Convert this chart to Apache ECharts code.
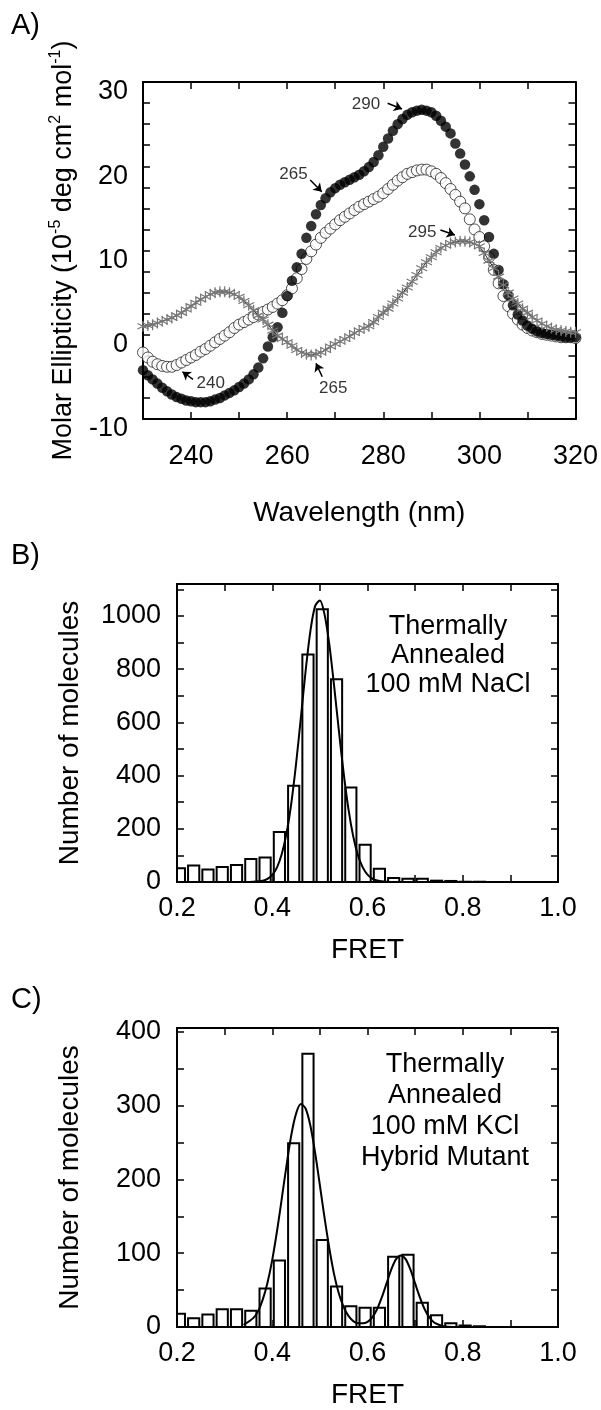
<!DOCTYPE html>
<html>
<head>
<meta charset="utf-8">
<script src="https://cdn.jsdelivr.net/npm/echarts@6/dist/echarts.min.js"></script>
<style>
html,body{margin:0;padding:0;background:#fff;}
#chart{width:601px;height:1410px;}
</style>
</head>
<body>
<div id="chart"></div>
<script>
// ---------- Panel A data (CD spectra) ----------
const wavelength = [230,231,232,233,234,235,236,237,238,239,240,241,242,243,244,245,246,247,248,249,
250,251,252,253,254,255,256,257,258,259,260,261,262,263,264,265,266,267,268,269,
270,271,272,273,274,275,276,277,278,279,280,281,282,283,284,285,286,287,288,289,
290,291,292,293,294,295,296,297,298,299,300,301,302,303,304,305,306,307,308,309,
310,311,312,313,314,315,316,317,318,319,320];
const filledCD = [-4.2,-4.8,-5.3,-5.8,-6.3,-6.7,-7.1,-7.4,-7.6,-7.8,-7.9,-8.0,-8.0,-8.0,-7.9,-7.7,-7.5,-7.2,-6.9,-6.6,
-6.2,-5.8,-5.3,-4.7,-3.9,-2.8,-1.4,-0.3,0.9,2.6,4.6,6.4,8.0,9.6,11.5,12.9,14.3,15.4,16.2,16.9,
17.4,17.8,18.1,18.4,18.7,19.0,19.4,19.9,20.5,21.3,22.3,23.3,24.2,25.0,25.6,26.1,26.4,26.6,26.7,26.6,
26.4,26.0,25.4,24.7,23.9,22.7,21.5,20.2,18.8,17.2,15.5,13.6,11.6,9.6,7.7,6.0,4.7,3.5,2.4,1.7,
1.1,0.7,0.4,0.2,0.1,0.0,-0.1,-0.2,-0.3,-0.3,-0.3];
const openCD = [-2.1,-2.7,-3.2,-3.5,-3.7,-3.8,-3.8,-3.6,-3.3,-3.0,-2.7,-2.4,-2.0,-1.7,-1.3,-0.9,-0.5,-0.1,0.3,0.8,
1.2,1.5,1.8,2.1,2.4,2.7,3.0,3.3,3.7,4.1,4.7,5.5,6.7,7.8,9.0,9.9,10.7,11.5,12.1,12.6,
13.1,13.6,14.0,14.4,14.8,15.2,15.5,15.8,16.1,16.4,16.8,17.3,17.8,18.3,18.7,19.1,19.3,19.5,19.6,19.6,
19.4,19.1,18.6,18.0,17.3,16.6,15.8,15.0,13.7,12.5,11.6,10.5,9.2,7.7,6.1,4.6,3.4,2.5,1.8,1.2,
0.8,0.5,0.3,0.1,0.0,-0.1,-0.2,-0.3,-0.3,-0.3,-0.4];
const starCD = [1.0,1.1,1.2,1.4,1.6,1.8,2.0,2.3,2.6,3.0,3.4,3.8,4.2,4.5,4.8,5.0,5.1,5.1,5.0,4.8,
4.5,4.0,3.5,2.9,2.3,1.8,1.2,0.5,-0.1,-0.5,-0.9,-1.3,-1.8,-2.1,-2.3,-2.4,-2.3,-2.1,-1.8,-1.4,
-1.1,-0.8,-0.5,-0.2,0.2,0.5,0.8,1.0,1.5,2.1,2.6,3.1,3.7,4.3,5.0,5.6,6.3,7.1,7.9,8.6,
9.2,9.8,10.3,10.6,10.9,11.0,11.1,11.1,11.0,10.8,10.5,9.7,8.8,7.9,6.9,5.9,5.0,4.3,3.7,3.1,
2.6,2.1,1.7,1.3,1.0,0.8,0.6,0.5,0.4,0.3,0.3];
const annTexts = ['290','265','295','240','265'];
const annTextPos = [[276.4,27.4],[261.3,19.1],[288.1,12.2],[244.1,-5.8],[269.6,-6.4]];
const annArrows = [
  [[280.9,27.47],[283.9,26.8]],
  [[264.8,18.37],[267.2,16.98]],
  [[291.9,12.43],[294.9,11.84]],
  [[240.4,-5.29],[238.2,-4.39]],
  [[267.3,-4.98],[266.0,-3.39]]
];

// ---------- Panels B and C data (FRET histograms) ----------
const fretBins = [0.205,0.235,0.265,0.295,0.325,0.355,0.385,0.415,0.445,0.475,0.505,0.535,0.565,0.595,0.625,0.655,0.685,0.715,0.745,0.775,0.805,0.835];
const countsB = [52,62,47,56,64,86,92,188,362,855,1025,762,355,140,50,15,12,12,5,4,1,1];
const countsC = [18,12,17,24,24,22,52,90,249,370,118,55,28,26,26,95,98,33,16,5,2,1];
const fitXB = [0.34,0.36,0.38,0.39,0.40,0.41,0.42,0.43,0.44,0.45,0.46,0.47,0.48,0.49,0.50,0.51,0.52,0.53,0.54,0.55,0.56,0.57,0.58,0.59,0.60,0.61,0.62,0.64,0.66];
const fitYB = [0,1,5,12,27,55,105,183,296,444,616,792,942,1037,1058,1004,890,735,567,408,274,172,100,55,28,13,6,1,0];
const fitXC = [0.34,0.36,0.37,0.38,0.39,0.40,0.41,0.42,0.43,0.44,0.45,0.46,0.47,0.48,0.49,0.50,0.51,0.52,0.53,0.54,0.55,0.56,0.57,0.58,0.59,0.60,0.61,0.62,0.63,0.64,0.65,0.66,0.67,0.68,0.69,0.70,0.71,0.72,0.73,0.74,0.75,0.76,0.78];
const fitYC = [3,12,21,37,60,91,130,174,219,260,289,302,296,273,236,192,147,106,71,45,27,15,8,5,5,7,13,24,40,59,78,92,97,92,78,59,40,24,13,6,3,1,0];

// ---------- styling ----------
const BLACK = '#000';
const FF = "'Liberation Sans', Arial, sans-serif";
const BIN_W = 0.0235;

function zip(a, b) { return a.map((v, i) => [v, b[i]]); }

function axis(grid, min, max, interval, position, showLabel, fmt, margin, extra) {
  const o = {
    type: 'value', gridIndex: grid, min: min, max: max, interval: interval, position: position,
    axisLine: {show: true, onZero: false, lineStyle: {color: BLACK, width: 2}},
    axisTick: {show: true, inside: true, length: 7, lineStyle: {color: BLACK, width: 1.5}},
    splitLine: {show: false},
    minorTick: {show: false},
    axisLabel: {show: showLabel, formatter: fmt, color: BLACK, fontSize: 27, fontFamily: FF, margin: margin}
  };
  return Object.assign(o, extra || {});
}

const fmtA_x = v => (v % 20 === 0 ? String(v) : '');
const fmtA_y = v => (Math.round(v) === v && v % 10 === 0 ? String(v) : '');
const fmtB_y = v => (v % 200 === 0 ? String(v) : '');
const fmtC_y = v => (v % 100 === 0 ? String(v) : '');
const fmtFret = v => { const r = Math.round(v * 10); return (Math.abs(v * 10 - r) < 1e-6 && r % 2 === 0) ? (r / 10).toFixed(1) : ''; };

const nameStyle = {color: BLACK, fontSize: 28, fontFamily: FF};

const xAxes = [
  axis(0, 230, 320, 10, 'bottom', true, fmtA_x, 24, {name: 'Wavelength (nm)', nameLocation: 'middle', nameGap: 80, nameTextStyle: nameStyle}),
  axis(0, 230, 320, 10, 'top', false, fmtA_x, 8),
  axis(1, 0.2, 1.0, 0.1, 'bottom', true, fmtFret, 13, {name: 'FRET', nameLocation: 'middle', nameGap: 54, nameTextStyle: nameStyle}),
  axis(1, 0.2, 1.0, 0.1, 'top', false, fmtFret, 8),
  axis(2, 0.2, 1.0, 0.1, 'bottom', true, fmtFret, 13, {name: 'FRET', nameLocation: 'middle', nameGap: 54, nameTextStyle: nameStyle}),
  axis(2, 0.2, 1.0, 0.1, 'top', false, fmtFret, 8)
];
const yAxes = [
  axis(0, -10, 30, 2.5, 'left', true, fmtA_y, 15, {
    name: 'Molar Ellipticity (10{s|-5} deg cm{s|2} mol{s|-1})', nameLocation: 'middle', nameGap: 63,
    nameTextStyle: {color: BLACK, fontSize: 27, fontFamily: FF, lineHeight: 30,
      rich: {s: {fontSize: 16, fontFamily: FF, color: BLACK, lineHeight: 18, verticalAlign: 'top'}}}
  }),
  axis(0, -10, 30, 2.5, 'right', false, fmtA_y, 8),
  axis(1, 0, 1120, 100, 'left', true, fmtB_y, 16, {name: 'Number of molecules', nameLocation: 'middle', nameGap: 93, nameTextStyle: nameStyle}),
  axis(1, 0, 1120, 100, 'right', false, fmtB_y, 8),
  axis(2, 0, 405, 50, 'left', true, fmtC_y, 16, {name: 'Number of molecules', nameLocation: 'middle', nameGap: 93, nameTextStyle: nameStyle}),
  axis(2, 0, 405, 50, 'right', false, fmtC_y, 8)
];
// A's y labels sit slightly below their ticks in the original
yAxes[0].axisLabel.verticalAlign = 'top';
yAxes[0].axisLabel.lineHeight = 20;

function barRender(params, api) {
  const x = api.value(0), y = api.value(1);
  const p0 = api.coord([x - BIN_W / 2, y]);
  const p1 = api.coord([x + BIN_W / 2, 0]);
  const cs = params.coordSys;
  const shape = echarts.graphic.clipRectByRect(
    {x: p0[0], y: p0[1], width: p1[0] - p0[0], height: p1[1] - p0[1]},
    {x: cs.x, y: cs.y, width: cs.width, height: cs.height}
  );
  return shape && {type: 'rect', shape: shape, style: {fill: '#fff', stroke: BLACK, lineWidth: 2}};
}

const starSymbol = 'path://M0,-10L0,10M-8.66,-5L8.66,5M-8.66,5L8.66,-5';

const option = {
  animation: false,
  backgroundColor: '#fff',
  grid: [
    {left: 143, top: 82, width: 434, height: 337},
    {left: 177, top: 584, width: 381, height: 298},
    {left: 177, top: 1028, width: 381, height: 301}
  ],
  xAxis: xAxes,
  yAxis: yAxes,
  graphic: [
    {type: 'text', x: 11, y: 26, style: {text: 'A)', fontSize: 29, fontFamily: FF, fill: BLACK, verticalAlign: 'middle', textVerticalAlign: 'middle'}},
    {type: 'text', x: 11, y: 556, style: {text: 'B)', fontSize: 29, fontFamily: FF, fill: BLACK, verticalAlign: 'middle', textVerticalAlign: 'middle'}},
    {type: 'text', x: 11, y: 1000, style: {text: 'C)', fontSize: 29, fontFamily: FF, fill: BLACK, verticalAlign: 'middle', textVerticalAlign: 'middle'}},
    {type: 'text', x: 448, y: 612, style: {text: 'Thermally\nAnnealed\n100 mM NaCl', fontSize: 27, lineHeight: 29, fontFamily: FF, fill: BLACK, align: 'center', textAlign: 'center', verticalAlign: 'top', textVerticalAlign: 'top'}},
    {type: 'text', x: 445, y: 1049, style: {text: 'Thermally\nAnnealed\n100 mM KCl\nHybrid Mutant', fontSize: 27, lineHeight: 31, fontFamily: FF, fill: BLACK, align: 'center', textAlign: 'center', verticalAlign: 'top', textVerticalAlign: 'top'}}
  ],
  series: [
    {
      type: 'scatter', xAxisIndex: 0, yAxisIndex: 0, data: zip(wavelength, openCD),
      symbol: 'circle', symbolSize: 11,
      itemStyle: {color: '#fff', borderColor: '#222', borderWidth: 1}, z: 2
    },
    {
      type: 'scatter', xAxisIndex: 0, yAxisIndex: 0, data: zip(wavelength, filledCD),
      symbol: 'circle', symbolSize: 10.5,
      itemStyle: {color: BLACK}, z: 3
    },
    {
      type: 'line', xAxisIndex: 0, yAxisIndex: 0, data: zip(wavelength, starCD),
      symbol: starSymbol, symbolSize: 11, showSymbol: true, showAllSymbol: true,
      itemStyle: {color: '#777', borderColor: '#777', borderWidth: 1.2},
      lineStyle: {color: '#222', width: 1}, z: 4
    },
    {
      type: 'scatter', xAxisIndex: 0, yAxisIndex: 0,
      data: annTextPos.map((p, i) => ({value: p, name: annTexts[i]})),
      symbol: 'circle', symbolSize: 1, itemStyle: {color: 'rgba(0,0,0,0)'},
      label: {show: true, position: 'inside', formatter: '{b}', fontSize: 17, color: BLACK, fontFamily: FF},
      markLine: {
        silent: true, animation: false,
        symbol: ['none', 'arrow'], symbolSize: 8,
        lineStyle: {color: BLACK, width: 1.5, type: 'solid'},
        label: {show: false},
        data: annArrows.map(a => [{coord: a[0]}, {coord: a[1]}])
      },
      z: 5
    },
    {
      type: 'custom', xAxisIndex: 2, yAxisIndex: 2, data: zip(fretBins, countsB),
      renderItem: barRender, z: 2
    },
    {
      type: 'line', xAxisIndex: 2, yAxisIndex: 2, data: zip(fitXB, fitYB),
      symbol: 'none', smooth: 0.3, lineStyle: {color: BLACK, width: 2}, z: 3
    },
    {
      type: 'custom', xAxisIndex: 4, yAxisIndex: 4, data: zip(fretBins, countsC),
      renderItem: barRender, z: 2
    },
    {
      type: 'line', xAxisIndex: 4, yAxisIndex: 4, data: zip(fitXC, fitYC),
      symbol: 'none', smooth: 0.3, lineStyle: {color: BLACK, width: 2}, z: 3
    }
  ]
};

const chart = echarts.init(document.getElementById('chart'), null, {renderer: 'canvas'});
chart.setOption(option);
</script>
</body>
</html>
